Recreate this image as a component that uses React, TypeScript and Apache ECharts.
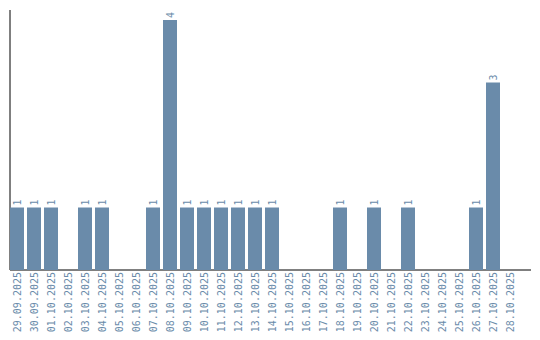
import React, { useEffect, useRef } from "react";
import * as echarts from "echarts";

const categories = [
  "29.09.2025", "30.09.2025", "01.10.2025", "02.10.2025", "03.10.2025",
  "04.10.2025", "05.10.2025", "06.10.2025", "07.10.2025", "08.10.2025",
  "09.10.2025", "10.10.2025", "11.10.2025", "12.10.2025", "13.10.2025",
  "14.10.2025", "15.10.2025", "16.10.2025", "17.10.2025", "18.10.2025",
  "19.10.2025", "20.10.2025", "21.10.2025", "22.10.2025", "23.10.2025",
  "24.10.2025", "25.10.2025", "26.10.2025", "27.10.2025", "28.10.2025",
];
const counts = [
  1, 1, 1, 0, 1, 1, 0, 0, 1, 4,
  1, 1, 1, 1, 1, 1, 0, 0, 0, 1,
  0, 1, 0, 1, 0, 0, 0, 1, 3, 0,
];
const yMax = 4.16;

const COLOR = "#6a8baa";
const FONT = "DejaVu Sans Mono";

export default function App() {
  const ref = useRef<HTMLDivElement>(null);
  useEffect(() => {
    if (!ref.current) return;
    const chart = echarts.init(ref.current, null, { renderer: "svg" });
    chart.setOption({
      animation: false,
      grid: { left: 8.5, right: 21.5, top: 10, bottom: 70, outerBoundsMode: "none", containLabel: false },
      xAxis: {
        type: "category",
        data: categories,
        axisLine: { show: false },
        axisTick: { show: false },
        axisLabel: {
          rotate: 90,
          interval: 0,
          margin: 2,
          color: COLOR,
          fontFamily: FONT,
          fontSize: 10,
          overflow: "none",
          hideOverlap: false,
        },
      },
      yAxis: {
        type: "value",
        min: 0,
        max: yMax,
        axisLine: { show: false },
        axisTick: { show: false },
        axisLabel: { show: false },
        splitLine: { show: false },
      },
      series: [
        {
          type: "bar",
          data: counts.map((v) => (v === 0 ? null : v)),
          barWidth: 14,
          itemStyle: { color: COLOR },
          label: {
            show: true,
            position: "top",
            rotate: 90,
            align: "left",
            verticalAlign: "middle",
            distance: 2,
            color: COLOR,
            fontFamily: FONT,
            fontSize: 10,
          },
        },
      ],
      graphic: [
        {
          type: "line",
          shape: { x1: 10, y1: 10, x2: 10, y2: 270 },
          style: { stroke: "#000", lineWidth: 1 },
        },
        {
          type: "line",
          shape: { x1: 10, y1: 270, x2: 531, y2: 270 },
          style: { stroke: "#000", lineWidth: 1 },
        },
      ],
    });
    return () => chart.dispose();
  }, []);
  return <div ref={ref} style={{ width: 540, height: 340, margin: -8 }} />;
}
